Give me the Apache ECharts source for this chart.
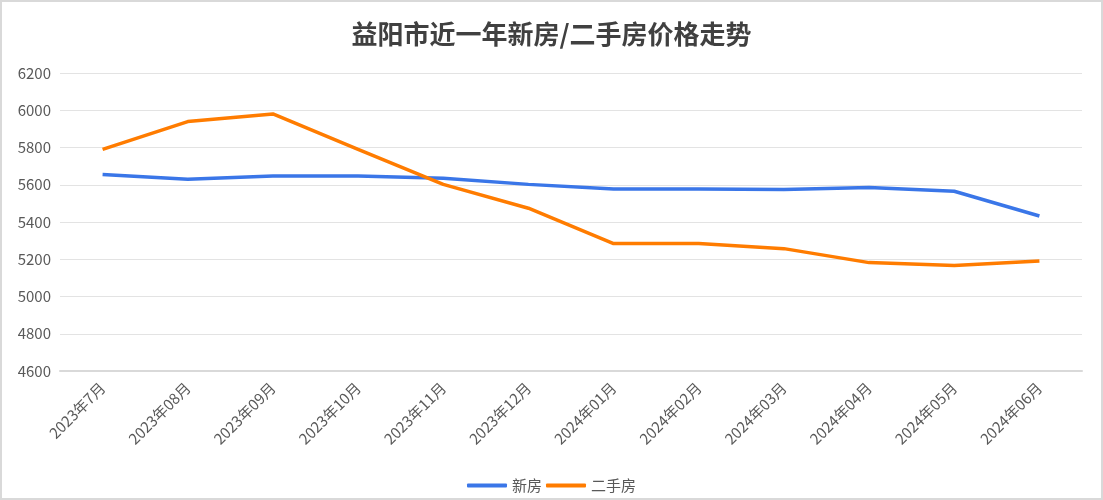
<!DOCTYPE html>
<html>
<head>
<meta charset="utf-8">
<script src="https://cdn.jsdelivr.net/npm/echarts@6/dist/echarts.min.js"></script>
<style>
  html, body { margin: 0; padding: 0; background: #fff; }
  #chart { width: 1103px; height: 500px; box-sizing: border-box; border: 2px solid #d9d9d9; }
</style>
</head>
<body>
<div id="chart"></div>
<script>
var months = ['2023年7月', '2023年08月', '2023年09月', '2023年10月', '2023年11月', '2023年12月',
  '2024年01月', '2024年02月', '2024年03月', '2024年04月', '2024年05月', '2024年06月']
var newHouse = [5655, 5630, 5647, 5647, 5635, 5602, 5577, 5577, 5575, 5585, 5565, 5432]
var oldHouse = [5790, 5939, 5980, 5790, 5602, 5474, 5284, 5284, 5257, 5182, 5167, 5191]

var font = '"Noto Sans CJK SC", "Open Sans", sans-serif'
var chart = echarts.init(document.getElementById('chart'))

var option = {
  backgroundColor: '#fff',
  title: {
    text: '益阳市近一年新房/二手房价格走势',
    left: 'center',
    top: 14,
    textStyle: { color: '#404040', fontSize: 26, fontWeight: 'bold', fontFamily: font }
  },
  legend: {
    bottom: 0,
    left: 'center',
    itemWidth: 40,
    itemHeight: 4,
    itemGap: 4,
    icon: 'roundRect',
    textStyle: { color: '#595959', fontSize: 15, fontFamily: font },
    data: ['新房', '二手房']
  },
  grid: { left: 58, right: 19, top: 71, bottom: 127 },
  xAxis: {
    type: 'category',
    data: months,
    boundaryGap: true,
    axisLine: { lineStyle: { color: '#d9d9d9', width: 2 } },
    axisTick: { show: false },
    axisLabel: { rotate: 45, color: '#595959', fontSize: 15, fontFamily: font, margin: 14 }
  },
  yAxis: {
    type: 'value',
    min: 4600,
    max: 6200,
    interval: 200,
    axisLine: { show: false },
    axisTick: { show: false },
    axisLabel: {
      color: '#595959',
      fontSize: 15,
      fontFamily: font,
      margin: 9,
      formatter: function (v) { return String(v) }
    },
    splitLine: { lineStyle: { color: '#e3e3e3', width: 1 } }
  },
  series: [
    {
      name: '新房',
      type: 'line',
      data: newHouse,
      symbol: 'none',
      lineStyle: { width: 3.5, color: '#3a76e8' },
      itemStyle: { color: '#3a76e8' }
    },
    {
      name: '二手房',
      type: 'line',
      data: oldHouse,
      symbol: 'none',
      lineStyle: { width: 3.5, color: '#ff7c00' },
      itemStyle: { color: '#ff7c00' }
    }
  ]
}

chart.setOption(option)
</script>
</body>
</html>
